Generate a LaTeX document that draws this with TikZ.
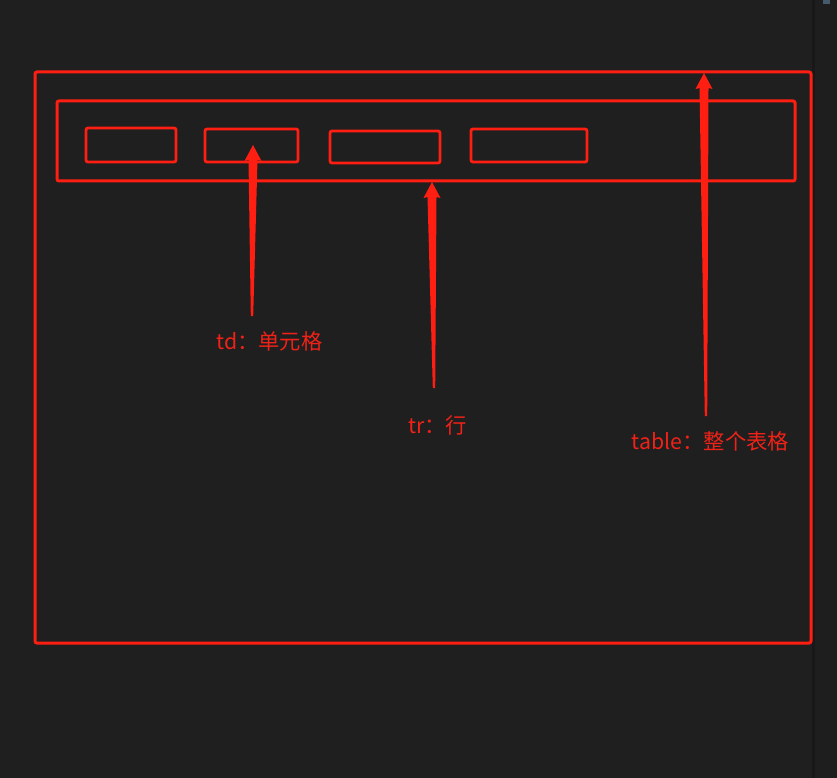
\documentclass[tikz,border=0pt]{standalone}
\usepackage{fontspec}
\setmainfont{Noto Sans CJK SC}
\usetikzlibrary{calc}
\definecolor{bg}{RGB}{31,31,31}
\definecolor{bar}{RGB}{30,30,30}
\definecolor{barline}{RGB}{24,24,24}
\definecolor{mark}{RGB}{255,30,18}
\definecolor{marktext}{RGB}{240,34,24}
\tikzset{
  box/.style={draw=mark, line width=2.8pt, rounded corners=2pt, inner sep=0pt, outer sep=0pt},
  lbl/.style={text=marktext, inner sep=0pt, font=\fontsize{21.3}{25}\selectfont},
  taper/.style={fill=mark, draw=none}
}
\newcommand\taperarrow[2]{% tip, tail coordinate names
  \fill[taper] ($(#2)+(-1.2,0)$) -- ($(#1)+(-4.5,15)$) -- ($(#1)+(-8.5,16)$) -- (#1)
    -- ($(#1)+(8.5,16)$) -- ($(#1)+(4.5,15)$) -- ($(#2)+(1.2,0)$) -- cycle;}
\begin{document}
\begin{tikzpicture}[x=1pt,y=-1pt]
\useasboundingbox (0,0) rectangle (837,778);
\fill[bg] (0,0) rectangle (837,778);
% scrollbar strip
\fill[barline] (812,0) rectangle (815,778);
\fill[bar] (815,0) rectangle (837,778);
\fill[fill={rgb,255:red,70;green,90;blue,110}] (823,0) rectangle (830,4);
% boxes
\node[box, line width=3pt, minimum width=776pt, minimum height=571pt] (table) at (423,357.5) {};
\node[box, line width=3pt, minimum width=738pt, minimum height=80pt] (row) at (426,141) {};
\node[box, minimum width=90pt, minimum height=34pt] (td1) at (131,145) {};
\node[box, minimum width=93pt, minimum height=33pt] (td2) at (251.5,145.5) {};
\node[box, minimum width=110pt, minimum height=32pt] (td3) at (385,147) {};
\node[box, minimum width=116pt, minimum height=33pt] (td4) at (529,145.5) {};
% labels
\node[lbl] (ltd) at (269.5,341) {td：单元格};
\node[lbl] (ltr) at (437.5,425) {tr：行};
\node[lbl] (ltable) at (710.5,441) {table：整个表格};
% arrow ends
\coordinate (tdtip) at (253,145);
\coordinate (tdtail) at (252,316);
\coordinate (trtip) at (432,182);
\coordinate (trtail) at (434,388);
\coordinate (tabletip) at (704,73);
\coordinate (tabletail) at (706,416);
\taperarrow{tdtip}{tdtail}
\taperarrow{trtip}{trtail}
\taperarrow{tabletip}{tabletail}
\end{tikzpicture}
\end{document}
